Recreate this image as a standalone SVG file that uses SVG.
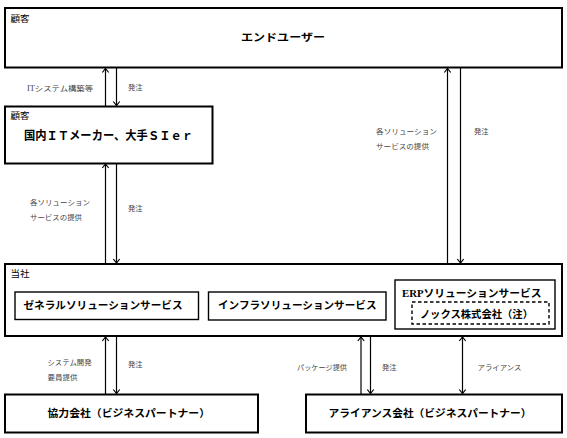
<svg xmlns="http://www.w3.org/2000/svg" width="567" height="438" viewBox="0 0 567 438">
<defs>
<style>
.box{fill:#fff;stroke:#000;stroke-width:2}
.inner{fill:#fff;stroke:#000;stroke-width:1.4}
.dash{fill:none;stroke:#000;stroke-width:1.4;stroke-dasharray:3.5,2.5}
.ln{stroke:#000;stroke-width:1.2;fill:none}
.t{font-family:"Liberation Serif","Noto Sans CJK JP",serif;fill:#000}
.h{font-size:10.5px;font-weight:bold}
.cat{font-size:9.5px}
.lab{font-family:"Liberation Serif","Noto Sans CJK JP",serif;font-size:7.3px;fill:#444}
</style>
<marker id="ah" viewBox="-5 -5 10 10" markerWidth="10" markerHeight="10" refX="0" refY="0" orient="auto-start-reverse" markerUnits="userSpaceOnUse">
<path d="M-4,-3.2 L0,0 L-4,3.2" fill="none" stroke="#000" stroke-width="1.2"/>
</marker>
</defs>
<rect width="567" height="438" fill="#fff"/>

<g id="connectors">
<line class="ln" x1="105.5" y1="106" x2="105.5" y2="68.5" marker-end="url(#ah)"/>
<line class="ln" x1="116.5" y1="68" x2="116.5" y2="105.5" marker-end="url(#ah)"/>
<line class="ln" x1="105.5" y1="263.5" x2="105.5" y2="164" marker-end="url(#ah)"/>
<line class="ln" x1="116.5" y1="163.5" x2="116.5" y2="263" marker-end="url(#ah)"/>
<line class="ln" x1="447.5" y1="263.5" x2="447.5" y2="68.5" marker-end="url(#ah)"/>
<line class="ln" x1="460.5" y1="68" x2="460.5" y2="263" marker-end="url(#ah)"/>
<line class="ln" x1="105.5" y1="394" x2="105.5" y2="337" marker-end="url(#ah)"/>
<line class="ln" x1="116.5" y1="336" x2="116.5" y2="393.5" marker-end="url(#ah)"/>
<line class="ln" x1="361" y1="394" x2="361" y2="337" marker-end="url(#ah)"/>
<line class="ln" x1="370.5" y1="336" x2="370.5" y2="393.5" marker-end="url(#ah)"/>
<line class="ln" x1="462.5" y1="337" x2="462.5" y2="393.5" marker-start="url(#ah)" marker-end="url(#ah)"/>
<text class="lab" x="27" y="90.5" textLength="66" lengthAdjust="spacingAndGlyphs">ITシステム構築等</text>
<text class="lab" x="128" y="90">発注</text>
<text class="lab" x="30" y="205" textLength="60" lengthAdjust="spacingAndGlyphs">各ソリューション</text>
<text class="lab" x="30" y="219.5" textLength="52" lengthAdjust="spacingAndGlyphs">サービスの提供</text>
<text class="lab" x="128" y="211">発注</text>
<text class="lab" x="376" y="133.5" textLength="61" lengthAdjust="spacingAndGlyphs">各ソリューション</text>
<text class="lab" x="376" y="148.5" textLength="53" lengthAdjust="spacingAndGlyphs">サービスの提供</text>
<text class="lab" x="474" y="134">発注</text>
<text class="lab" x="47.5" y="365" textLength="44" lengthAdjust="spacingAndGlyphs">システム開発</text>
<text class="lab" x="47.5" y="379.5" textLength="30" lengthAdjust="spacingAndGlyphs">要員提供</text>
<text class="lab" x="128" y="367">発注</text>
<text class="lab" x="297" y="370" textLength="50" lengthAdjust="spacingAndGlyphs">パッケージ提供</text>
<text class="lab" x="382" y="370">発注</text>
<text class="lab" x="477.5" y="370" textLength="44" lengthAdjust="spacingAndGlyphs">アライアンス</text>
</g>

<g id="enduser">
<rect class="box" x="5" y="8" width="557" height="59.5"/>
<text class="t cat" x="10.5" y="21.5">顧客</text>
<text class="t h" x="241" y="41" textLength="84" lengthAdjust="spacingAndGlyphs">エンドユーザー</text>
</g>

<g id="maker">
<rect class="box" x="5" y="106.5" width="207.5" height="57"/>
<text class="t cat" x="10.5" y="119">顧客</text>
<text class="t" x="24" y="140" font-size="12" font-weight="bold" textLength="169" lengthAdjust="spacingAndGlyphs">国内ＩＴメーカー、大手ＳＩｅｒ</text>
</g>

<g id="company">
<rect class="box" x="5" y="264" width="557" height="72"/>
<text class="t cat" x="10.5" y="277">当社</text>
</g>

<g id="general">
<rect class="inner" x="15" y="292" width="183.5" height="27.5"/>
<text class="t h" x="23.5" y="308.5" textLength="159" lengthAdjust="spacingAndGlyphs">ゼネラルソリューションサービス</text>
</g>

<g id="infra">
<rect class="inner" x="208.5" y="292" width="177.5" height="28"/>
<text class="t h" x="218" y="308.5" textLength="158.5" lengthAdjust="spacingAndGlyphs">インフラソリューションサービス</text>
</g>

<g id="erp">
<rect class="inner" x="395" y="280" width="160" height="49"/>
<text class="t h" x="402" y="296.5" textLength="139.5" lengthAdjust="spacingAndGlyphs">ERPソリューションサービス</text>
</g>

<g id="nox">
<rect class="dash" x="412" y="302" width="137" height="22"/>
<text class="t h" x="420" y="318" textLength="113" lengthAdjust="spacingAndGlyphs">ノックス株式会社（注）</text>
</g>

<g id="partner">
<rect class="box" x="5" y="394.5" width="253" height="38"/>
<text class="t h" x="47.5" y="417" textLength="162.5" lengthAdjust="spacingAndGlyphs">協力会社（ビジネスパートナー）</text>
</g>

<g id="alliance">
<rect class="box" x="306" y="394.5" width="256" height="38"/>
<text class="t h" x="328.5" y="417" textLength="203" lengthAdjust="spacingAndGlyphs">アライアンス会社（ビジネスパートナー）</text>
</g>
</svg>
